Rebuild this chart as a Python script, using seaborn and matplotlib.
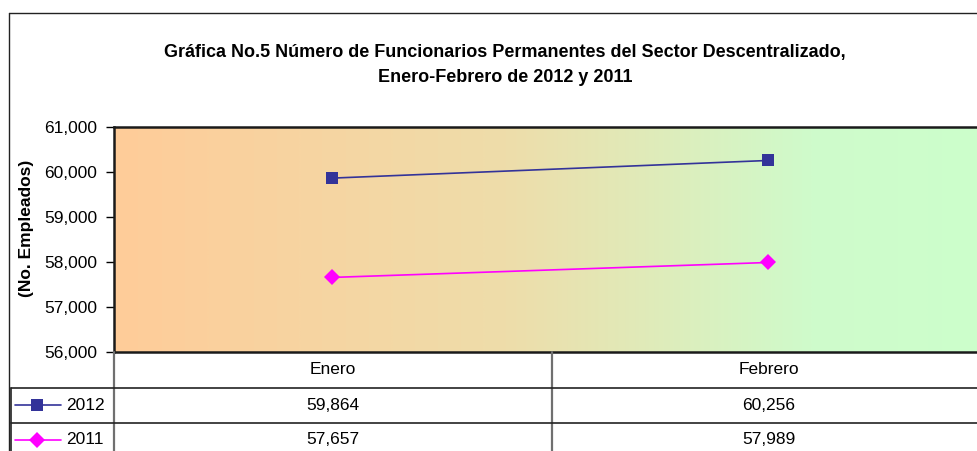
import matplotlib
matplotlib.use("Agg")
import matplotlib.pyplot as plt
from matplotlib.lines import Line2D
from matplotlib.colors import LinearSegmentedColormap
import numpy as np
import pandas as pd
import seaborn as sns

# ---- data ----
meses = ["Enero", "Febrero"]
series_2012 = [59864, 60256]
series_2011 = [57657, 57989]
anios = ["2012", "2011"]
titulo1 = "Gráfica No.5 Número de Funcionarios Permanentes del Sector Descentralizado,"
titulo2 = "Enero-Febrero de 2012 y 2011"
ylabel = "(No. Empleados)"
yticks = [56000, 57000, 58000, 59000, 60000, 61000]

df = pd.DataFrame({
    "Mes": meses * 2,
    "Empleados": series_2012 + series_2011,
    "Año": [anios[0]] * 2 + [anios[1]] * 2,
})

sns.set_theme(style="white")
plt.rcParams["font.family"] = ["Liberation Sans", "DejaVu Sans"]
plt.rcParams["text.color"] = "black"

W, H = 977, 451
fig = plt.figure(figsize=(W / 100, H / 100), dpi=100)
fig.patch.set_facecolor("white")

def fx(x):
    return x / W

def fy(y):
    return 1 - y / H

# axes: pixel box 114..986 x, 127..352 y
x0, x1, y0, y1 = 114, 986, 127, 352
ax = fig.add_axes([fx(x0), fy(y1), fx(x1 - x0), (y1 - y0) / H])

# gradient background
cmap = LinearSegmentedColormap.from_list(
    "bg", [(0.0, "#FFCC99"), (0.45, "#EEDDAA"), (0.8, "#CFFBCB"), (1.0, "#CCFFCC")])
grad = np.linspace(0, 1, 512).reshape(1, -1)
ax.imshow(grad, cmap=cmap, extent=[0, 1, 0, 1], transform=ax.transAxes,
          aspect="auto", zorder=0, interpolation="bilinear")

palette = {"2012": "#333399", "2011": "#FF00FF"}
markers = {"2012": "s", "2011": "D"}
sns.lineplot(data=df, x="Mes", y="Empleados", hue="Año", style="Año",
             palette=palette, markers=markers, dashes=False, ax=ax,
             linewidth=1.2, markersize=8, markeredgewidth=0, zorder=3, sort=False)
if ax.get_legend() is not None:
    ax.get_legend().remove()

ax.set_xlim(-0.5, 1.5)
ax.set_ylim(yticks[0], yticks[-1])
ax.set_yticks(yticks)
ax.set_yticklabels([f"{v:,}" for v in yticks], fontsize=12.5, color="black")
ax.set_xticks([])
ax.set_xlabel("")
ax.set_ylabel("")
ax.tick_params(axis="y", direction="out", length=6, width=1, color="black", pad=6, left=True)
for s in ["left", "top", "bottom"]:
    ax.spines[s].set_visible(True)
    ax.spines[s].set_color("#1a1a1a")
    ax.spines[s].set_linewidth(1.8)
ax.spines["right"].set_visible(False)

# outer chart frame
fig.add_artist(Line2D([fx(9), fx(9)], [fy(13), fy(H + 5)], color="#222222", lw=1.0))
fig.add_artist(Line2D([fx(9), fx(W + 5)], [fy(13), fy(13)], color="#222222", lw=1.0))

# titles
fig.text(fx(505), fy(53), titulo1, ha="center", va="center", fontsize=13,
         fontweight="bold", color="black")
fig.text(fx(505), fy(77), titulo2, ha="center", va="center", fontsize=13,
         fontweight="bold", color="black")
fig.text(fx(26), fy(228), ylabel, ha="center", va="center", rotation=90,
         fontsize=12.5, fontweight="bold", color="black")

# data table
col_div = 552
row_lines = [388, 423]
gray = "#707070"
fig.add_artist(Line2D([fx(x0), fx(x0)], [fy(352), fy(H + 5)], color=gray, lw=1.6))
fig.add_artist(Line2D([fx(col_div), fx(col_div)], [fy(352), fy(H + 5)], color=gray, lw=1.6))
fig.add_artist(Line2D([fx(11), fx(11)], [fy(row_lines[0]), fy(H + 5)], color="#222222", lw=1.2))
for ry in row_lines:
    fig.add_artist(Line2D([fx(11), fx(W + 5)], [fy(ry), fy(ry)], color="#222222", lw=1.2))

col_centers = [333, 769]
for m, cx in zip(meses, col_centers):
    fig.text(fx(cx), fy(370), m, ha="center", va="center", fontsize=12.5, color="black")

row_centers = [405, 440]
for (name, vals), ry in zip([(anios[0], series_2012), (anios[1], series_2011)], row_centers):
    for v, cx in zip(vals, col_centers):
        fig.text(fx(cx), fy(ry), f"{v:,}", ha="center", va="center", fontsize=12.5,
                 color="black")
    fig.add_artist(Line2D([fx(15), fx(61)], [fy(ry), fy(ry)], color=palette[name], lw=1.2))
    fig.add_artist(Line2D([fx(37)], [fy(ry)], color=palette[name], marker=markers[name],
                          markersize=8, markeredgewidth=0, lw=0))
    fig.text(fx(66), fy(ry), name, ha="left", va="center", fontsize=12.5, color="black")

fig.savefig("out.png", dpi=100)
